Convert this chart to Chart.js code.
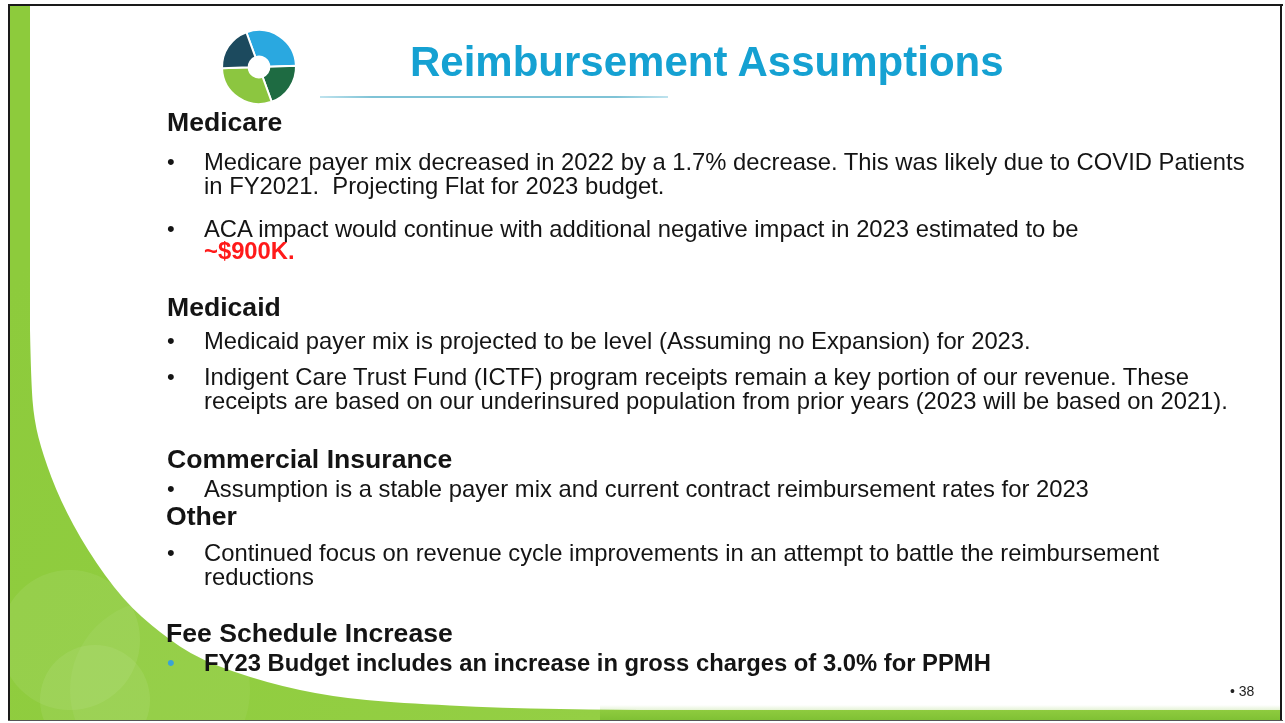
<!DOCTYPE html>
<html>
<head>
<meta charset="utf-8">
<script src="https://cdn.jsdelivr.net/npm/chart.js@4.4.1/dist/chart.umd.min.js"></script>
<style>
  html, body { margin: 0; padding: 0; width: 1285px; height: 723px; overflow: hidden; background: #fff; }
  #bg { position: absolute; left: 0; top: 0; }
  #logoWrap { position: absolute; left: 219px; top: 27px; width: 80px; height: 80px; }
  .t { position: absolute; white-space: nowrap; font-family: "Liberation Sans", Arial, sans-serif; color: #141414; }
  .title { font-size: 42px; line-height: 42px; font-weight: bold; color: #15a1d2; }
  .h { font-size: 26.6px; line-height: 26.6px; font-weight: bold; color: #141414; }
  .b { font-size: 23.8px; line-height: 24px; }
  .bb { font-size: 23.8px; line-height: 24px; font-weight: bold; }
  .red { color: #ff1a1a; }
  .dot { font-size: 22px; line-height: 24px; }
  .pg { font-size: 14px; line-height: 14px; color: #222; }
  #uline { position: absolute; left: 320px; top: 96px; width: 348px; height: 2px;
           background: linear-gradient(to right, #bfe3ee, #7fc3d6 15%, #7fc3d6 85%, #bfe3ee); }
</style>
</head>
<body>
<canvas id="bg" width="1285" height="723"></canvas>
<div id="logoWrap"><canvas id="logo" width="80" height="80"></canvas></div>

<div class="t title" style="left:410px; top:41px;">Reimbursement Assumptions</div>
<div id="uline"></div>

<div class="t h" style="left:167px; top:108.5px;">Medicare</div>
<div class="t dot" style="left:167px; top:150px;">•</div>
<div class="t b" style="left:204px; top:150px;">Medicare payer mix decreased in 2022 by a 1.7% decrease. This was likely due to COVID Patients</div>
<div class="t b" style="left:204px; top:173.5px;">in FY2021.&nbsp; Projecting Flat for 2023 budget.</div>
<div class="t dot" style="left:167px; top:216.5px;">•</div>
<div class="t b" style="left:204px; top:216.5px;">ACA impact would continue with additional negative impact in 2023 estimated to be</div>
<div class="t bb red" style="left:204px; top:238.5px;">~$900K.</div>

<div class="t h" style="left:167px; top:294px;">Medicaid</div>
<div class="t dot" style="left:167px; top:328.5px;">•</div>
<div class="t b" style="left:204px; top:328.5px;">Medicaid payer mix is projected to be level (Assuming no Expansion) for 2023.</div>
<div class="t dot" style="left:167px; top:364.5px;">•</div>
<div class="t b" style="left:204px; top:364.5px;">Indigent Care Trust Fund (ICTF) program receipts remain a key portion of our revenue. These</div>
<div class="t b" style="left:204px; top:388.7px;">receipts are based on our underinsured population from prior years (2023 will be based on 2021).</div>

<div class="t h" style="left:167px; top:446px;">Commercial Insurance</div>
<div class="t dot" style="left:167px; top:476.7px;">•</div>
<div class="t b" style="left:204px; top:476.7px;">Assumption is a stable payer mix and current contract reimbursement rates for 2023</div>
<div class="t h" style="left:166px; top:502.5px;">Other</div>
<div class="t dot" style="left:167px; top:540.7px;">•</div>
<div class="t b" style="left:204px; top:540.7px;">Continued focus on revenue cycle improvements in an attempt to battle the reimbursement</div>
<div class="t b" style="left:204px; top:564.7px;">reductions</div>

<div class="t h" style="left:166px; top:619.5px;">Fee Schedule Increase</div>
<div class="t dot" style="left:167px; top:650.5px; color:#3aa3d6;">•</div>
<div class="t bb" style="left:204px; top:650.5px;">FY23 Budget includes an increase in gross charges of 3.0% for PPMH</div>

<div class="t pg" style="left:1230px; top:684px;">• 38</div>

<script>
// Logo ring segments (clockwise from top)
const logoLabels = ["Sky", "Forest", "Lime", "Navy"];
const logoValues = [30, 20, 30, 20];
const logoColors = ["#2aa8e0", "#1e6b42", "#8cc640", "#1c4a5e"];

// ---- background decoration ----
(function () {
  const c = document.getElementById('bg');
  const g = c.getContext('2d');
  const edge = [[30,330],[31,380],[34,420],[43,455],[60,500],[87,550],[123,600],[160,633],
                [200,660],[267,683],[333,697],[400,703],[500,708],[620,710],[700,710]];
  g.save();
  g.beginPath();
  g.moveTo(10, 6);
  g.lineTo(30, 6);
  g.lineTo(edge[0][0], edge[0][1]);
  for (let i = 1; i < edge.length - 1; i++) {
    const mx = (edge[i][0] + edge[i + 1][0]) / 2, my = (edge[i][1] + edge[i + 1][1]) / 2;
    g.quadraticCurveTo(edge[i][0], edge[i][1], mx, my);
  }
  g.lineTo(edge[edge.length - 1][0], edge[edge.length - 1][1]);
  g.lineTo(1282, 710);
  g.lineTo(1282, 721);
  g.lineTo(10, 721);
  g.closePath();
  const grad = g.createLinearGradient(0, 300, 600, 720);
  grad.addColorStop(0, '#8dcb3c');
  grad.addColorStop(1, '#94cf44');
  g.fillStyle = grad;
  g.fill();
  g.clip();
  g.fillStyle = 'rgba(255,255,255,0.07)';
  g.beginPath(); g.arc(70, 640, 70, 0, Math.PI * 2); g.fill();
  g.beginPath(); g.arc(95, 700, 55, 0, Math.PI * 2); g.fill();
  g.fillStyle = 'rgba(255,255,255,0.05)';
  g.beginPath(); g.arc(160, 690, 90, 0, Math.PI * 2); g.fill();
  g.restore();
  const bg2 = g.createLinearGradient(0, 705, 0, 721);
  bg2.addColorStop(0, 'rgba(120,190,40,0)');
  bg2.addColorStop(1, 'rgba(110,180,40,0.6)');
  g.fillStyle = bg2;
  g.fillRect(600, 705, 682, 16);
  // frame
  g.fillStyle = '#1a1a1a';
  g.fillRect(8, 4, 1275, 2);
  g.fillRect(8, 4, 2, 717);
  g.fillRect(1280, 4, 2, 717);
  g.fillStyle = '#555';
  g.fillRect(8, 720, 1275, 1);
})();

// ---- logo as a Chart.js doughnut ----
new Chart(document.getElementById('logo'), {
  type: 'doughnut',
  data: {
    labels: logoLabels,
    datasets: [{
      data: logoValues,
      backgroundColor: logoColors,
      borderColor: '#ffffff',
      borderWidth: 2
    }]
  },
  options: {
    responsive: false,
    animation: false,
    cutout: '28%',
    rotation: -20,
    layout: { padding: 2 },
    plugins: { legend: { display: false }, tooltip: { enabled: false } }
  }
});
</script>
</body>
</html>
